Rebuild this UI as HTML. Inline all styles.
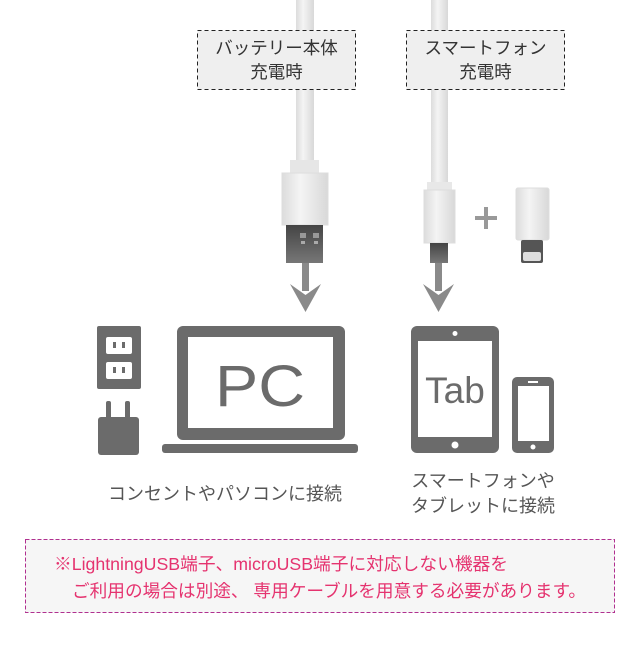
<!DOCTYPE html>
<html><head><meta charset="utf-8"><style>
html,body{margin:0;padding:0;background:#fff;width:640px;height:654px;overflow:hidden}
svg{display:block}
text{font-family:"Liberation Sans","Noto Sans CJK JP",sans-serif}
</style></head><body>
<svg width="640" height="654" viewBox="0 0 640 654">
<defs>
<linearGradient id="cab" x1="0" x2="1"><stop offset="0" stop-color="#dcdcdc"/><stop offset="0.4" stop-color="#f4f4f4"/><stop offset="1" stop-color="#d8d8d8"/></linearGradient>
<linearGradient id="met" x1="0" x2="0" y1="0" y2="1"><stop offset="0" stop-color="#444"/><stop offset="1" stop-color="#777"/></linearGradient>
</defs>
<rect x="296" y="0" width="18" height="165" fill="url(#cab)"/>
<rect x="431" y="0" width="17" height="185" fill="url(#cab)"/>
<rect x="290" y="160" width="29" height="15" fill="#e6e6e6"/>
<rect x="282" y="173" width="46" height="52" fill="url(#cab)" stroke="#ddd"/>
<rect x="286" y="225" width="37" height="38" fill="url(#met)"/>
<rect x="300" y="233" width="6" height="5" fill="#999"/><rect x="313" y="233" width="6" height="5" fill="#999"/>
<rect x="301" y="241" width="4" height="3" fill="#aaa"/><rect x="314" y="241" width="4" height="3" fill="#aaa"/>
<rect x="427" y="182" width="25" height="10" fill="#e8e8e8"/>
<rect x="424" y="190" width="31" height="53" fill="url(#cab)" stroke="#ddd"/>
<rect x="430" y="243" width="18" height="20" fill="url(#met)"/>
<rect x="475" y="216" width="22" height="4" fill="#999"/><rect x="484" y="207" width="4" height="22" fill="#999"/>
<rect x="516" y="188" width="33" height="52" rx="2" fill="url(#cab)" stroke="#ddd"/>
<rect x="521" y="240" width="22" height="23" rx="2" fill="#555"/>
<rect x="523" y="252" width="18" height="9" rx="2" fill="#ddd"/>
<rect x="302" y="263" width="7" height="28" fill="#8a8a8a"/>
<polygon points="290,284 305.5,312 321,284 305.5,295" fill="#8a8a8a"/>
<rect x="435" y="263" width="7" height="28" fill="#8a8a8a"/>
<polygon points="423,284 438.5,312 454,284 438.5,295" fill="#8a8a8a"/>
<rect x="197.5" y="30.5" width="158" height="59" fill="#efefef" stroke="#222" stroke-dasharray="4,3"/>
<text x="276.5" y="54" font-size="17.5" text-anchor="middle" fill="#333">バッテリー本体</text>
<text x="276.5" y="78" font-size="17.5" text-anchor="middle" fill="#333">充電時</text>
<rect x="406.5" y="30.5" width="158" height="59" fill="#efefef" stroke="#222" stroke-dasharray="4,3"/>
<text x="485.5" y="54" font-size="17.5" text-anchor="middle" fill="#333">スマートフォン</text>
<text x="485.5" y="78" font-size="17.5" text-anchor="middle" fill="#333">充電時</text>
<rect x="97" y="326" width="44" height="63" rx="2" fill="#6b6b6b"/>
<rect x="106" y="337" width="26" height="17" rx="2" fill="#fff"/>
<rect x="106" y="362" width="26" height="17" rx="2" fill="#fff"/>
<rect x="113" y="342" width="3" height="6" fill="#6b6b6b"/><rect x="122" y="342" width="3" height="6" fill="#6b6b6b"/>
<rect x="113" y="367" width="3" height="6" fill="#6b6b6b"/><rect x="122" y="367" width="3" height="6" fill="#6b6b6b"/>
<rect x="106" y="401" width="5" height="18" rx="2" fill="#6b6b6b"/><rect x="125" y="401" width="5" height="18" rx="2" fill="#6b6b6b"/>
<rect x="98" y="417" width="41" height="38" rx="3" fill="#6b6b6b"/>
<rect x="177" y="326" width="168" height="114" rx="6" fill="#6b6b6b"/>
<rect x="188" y="337" width="145" height="91" fill="#fff"/>
<rect x="162" y="444" width="196" height="9" rx="3" fill="#6b6b6b"/>
<text x="260" y="406" font-size="58" text-anchor="middle" fill="#6b6b6b" textLength="90" lengthAdjust="spacingAndGlyphs">PC</text>
<rect x="411" y="326" width="88" height="127" rx="6" fill="#6b6b6b"/>
<rect x="418" y="341" width="74" height="96" fill="#fff"/>
<circle cx="455" cy="333.5" r="2.5" fill="#fff"/><circle cx="455" cy="445" r="3.5" fill="#fff"/>
<text x="455" y="403" font-size="37" text-anchor="middle" fill="#6b6b6b">Tab</text>
<rect x="512" y="377" width="42" height="76" rx="5" fill="#6b6b6b"/>
<rect x="518" y="386" width="31" height="55" fill="#fff"/>
<rect x="528" y="381" width="10" height="2" fill="#fff"/><circle cx="533" cy="447" r="2.5" fill="#fff"/>
<text x="225" y="500" font-size="18" text-anchor="middle" fill="#555">コンセントやパソコンに接続</text>
<text x="483" y="487" font-size="18" text-anchor="middle" fill="#555">スマートフォンや</text>
<text x="483" y="512" font-size="18" text-anchor="middle" fill="#555">タブレットに接続</text>
<rect x="25.5" y="539.5" width="589" height="73" fill="#f6f6f6" stroke="#b0308f" stroke-dasharray="4,2"/>
<text x="54" y="570" font-size="17.5" fill="#e5336f" textLength="454" lengthAdjust="spacingAndGlyphs">※LightningUSB端子、microUSB端子に対応しない機器を</text>
<text x="72" y="597" font-size="17.5" fill="#e5336f" textLength="514" lengthAdjust="spacingAndGlyphs">ご利用の場合は別途、 専用ケーブルを用意する必要があります。</text>
</svg>
</body></html>
